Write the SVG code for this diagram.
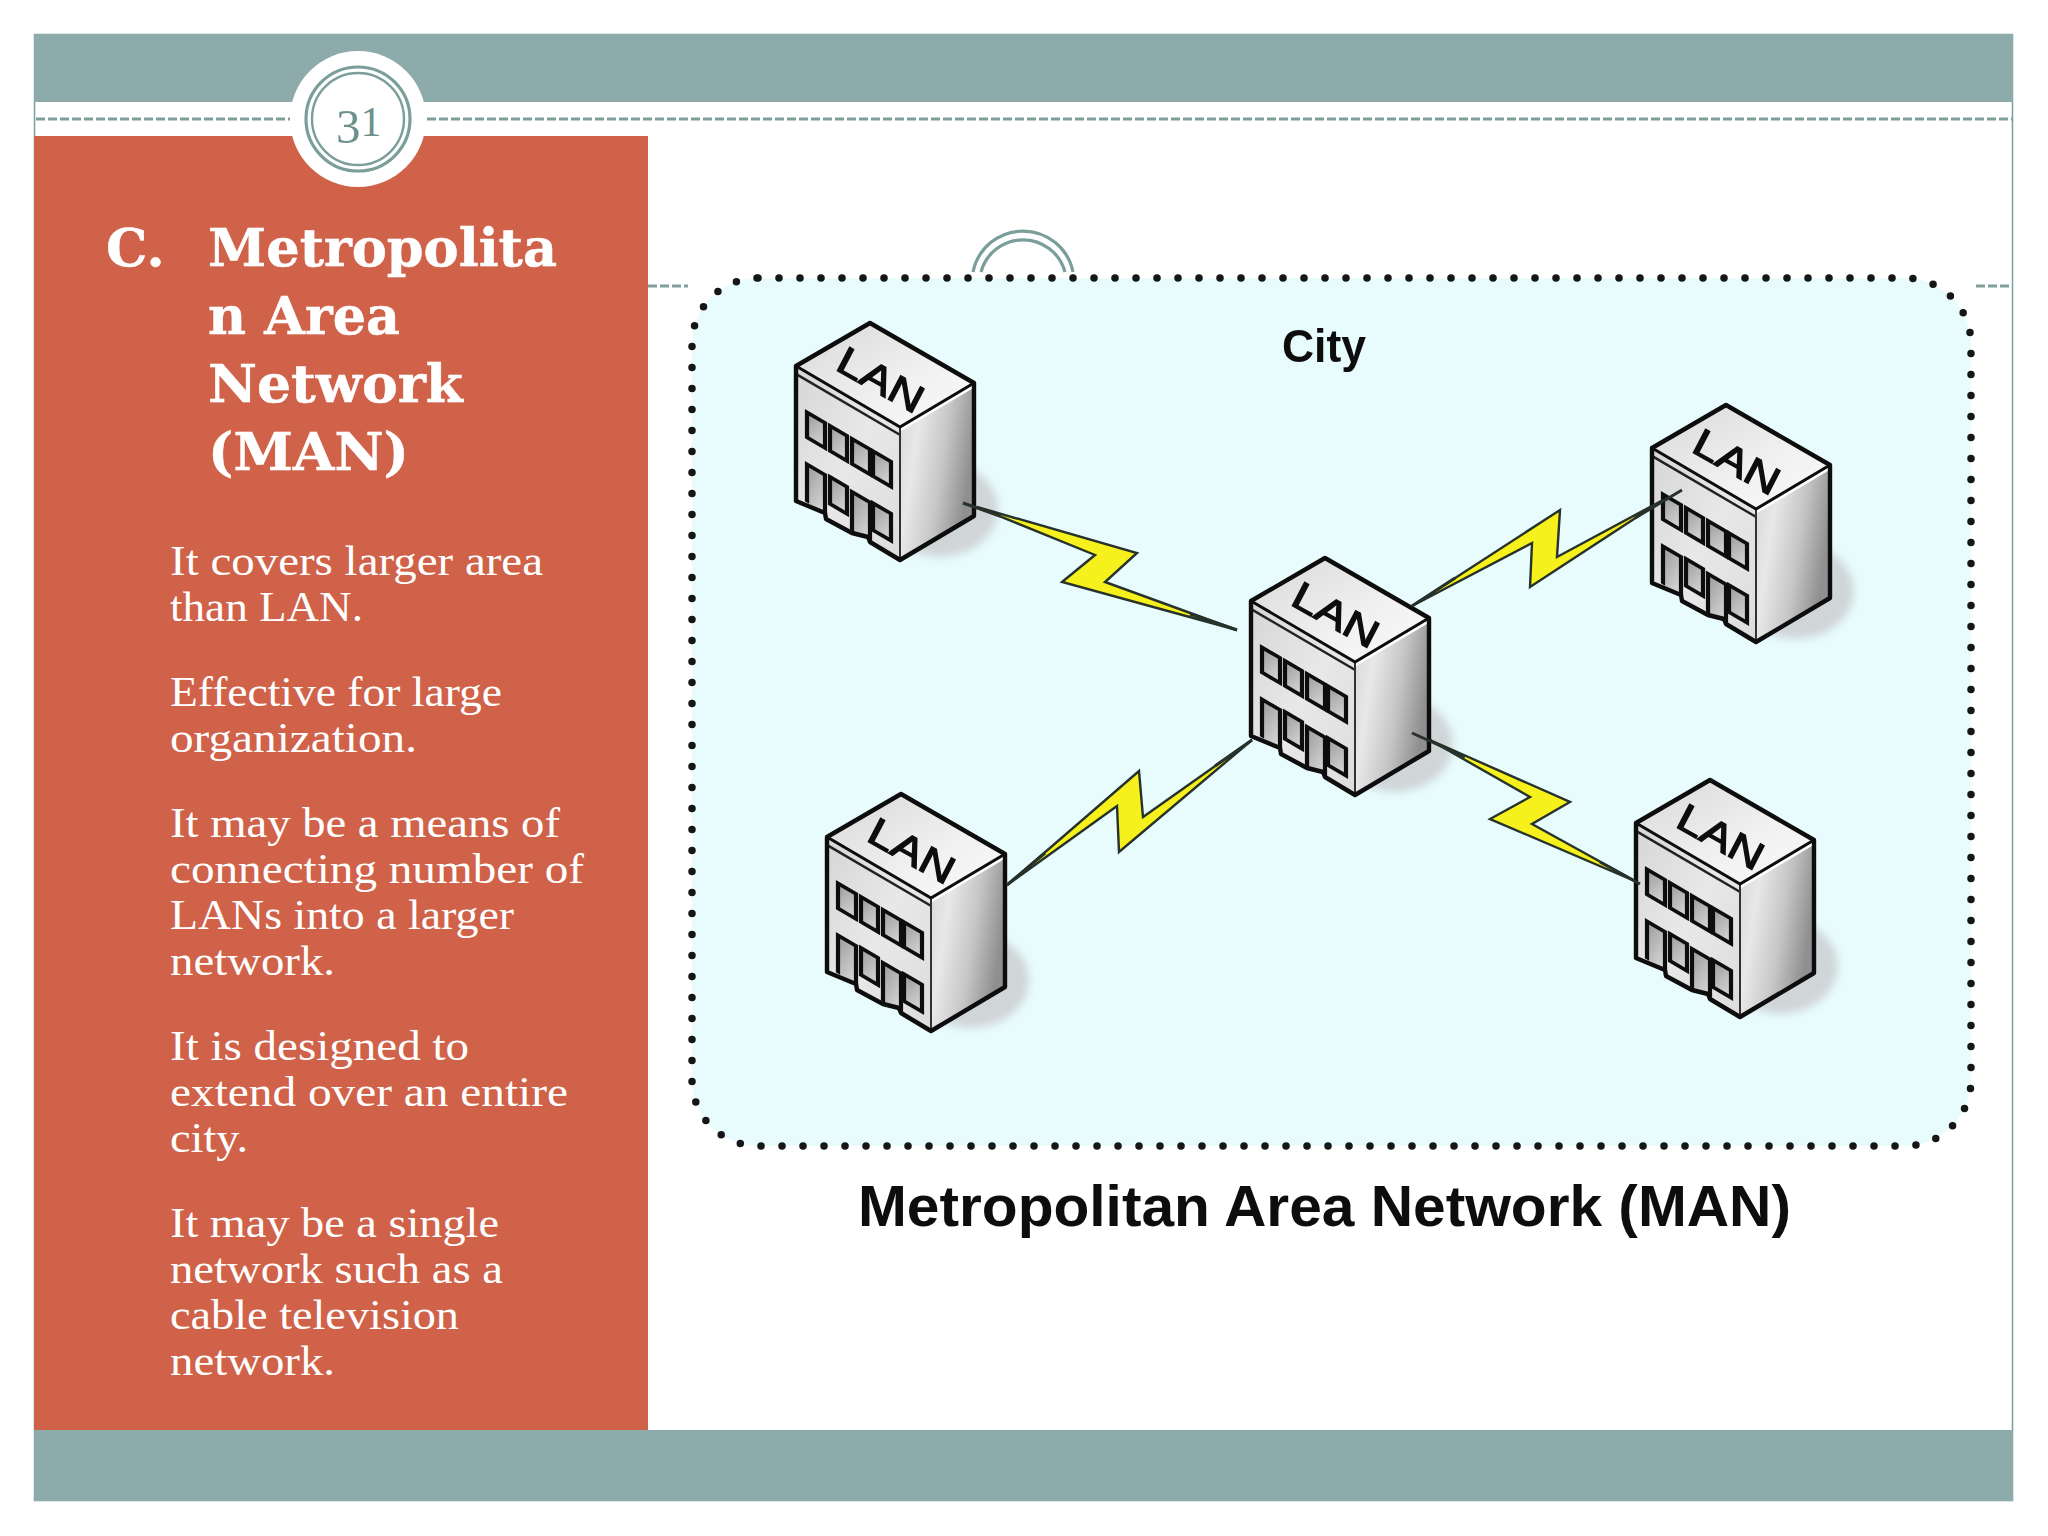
<svg xmlns="http://www.w3.org/2000/svg" xmlns:xlink="http://www.w3.org/1999/xlink" width="2048" height="1536" viewBox="0 0 2048 1536">
<style>
.band{fill:#8dabab}
.dash{fill:none;stroke:#7f9f9c;stroke-width:3;stroke-dasharray:9 3}
.ring{fill:none;stroke:#7a9e99}
.title{font-family:"DejaVu Serif",serif;font-weight:700;font-size:52px;fill:#fff;stroke:#fff;stroke-width:.5}
.body{font-family:"Liberation Serif",serif;font-size:42px;fill:#fff}
.lan{font-family:"Liberation Sans",Arial,sans-serif;font-size:39px;fill:#0c0c0c;stroke:#0c0c0c;stroke-width:1.300}
.cap{font-family:"Liberation Sans",Arial,sans-serif;font-weight:700;fill:#111}
.bolt{fill:#f6f01e;stroke:#26302a;stroke-width:2.400;stroke-linejoin:miter}
.tail{fill:none;stroke:#26302a;stroke-width:3}
.win{fill:url(#winG);stroke:#101010;stroke-width:4.200}
.edge{fill:none;stroke:#0b0b0b;stroke-width:4.400;stroke-linejoin:round}
</style>
<defs>
<linearGradient id="topG" x1="0" y1="0" x2="1" y2="1"><stop offset="0" stop-color="#d8d8d8"/><stop offset=".6" stop-color="#f1f1f1"/><stop offset="1" stop-color="#fafafa"/></linearGradient>
<linearGradient id="frontG" x1="0" y1="0" x2="1" y2="1"><stop offset="0" stop-color="#d6d6d6"/><stop offset=".5" stop-color="#e8e8e8"/><stop offset="1" stop-color="#dcdcdc"/></linearGradient>
<linearGradient id="sideG" x1="0" y1="0" x2="1" y2=".35"><stop offset="0" stop-color="#d6d6d6"/><stop offset=".3" stop-color="#e8e8e8"/><stop offset=".65" stop-color="#c6c6c6"/><stop offset="1" stop-color="#8f8f8f"/></linearGradient>
<linearGradient id="winG" x1="0" y1="0" x2="1" y2="1"><stop offset="0" stop-color="#9a9a9a"/><stop offset="1" stop-color="#dcdcdc"/></linearGradient>
<filter id="soft" x="-30%" y="-30%" width="160%" height="160%"><feGaussianBlur stdDeviation="4"/></filter>
<filter id="jpg" x="-5%" y="-5%" width="110%" height="110%"><feGaussianBlur stdDeviation=".7"/></filter>
<g id="bldg">
<ellipse cx="70" cy="186" rx="58" ry="48" fill="#d0d6d8" filter="url(#soft)"/>
<polygon points="0,0 -74,43 30,104 104,60" fill="url(#topG)"/>
<polygon points="30,104 104,60 104,193 30,236" fill="url(#sideG)"/>
<polygon points="-74,43 30,104 30,237 0,219 -2,214 -18,210 -44,196 -45,190 -74,178" fill="url(#frontG)"/>
<polyline points="30,107 104,63" fill="none" stroke="#fff" stroke-width="3"/>
<g transform="matrix(1 .586 0 1 -74 43)">
<rect x="11" y="40" width="18" height="25" class="win"/>
<rect x="34" y="40" width="17" height="25" class="win"/>
<rect x="56" y="40" width="18" height="25" class="win"/>
<rect x="77" y="40" width="18" height="25" class="win"/>
<path d="M11 130V92H29V130" class="win"/>
<rect x="34" y="91" width="17" height="27" class="win"/>
<path d="M56 132V93H74V132" class="win"/>
<rect x="77" y="92" width="18" height="27" class="win"/>
<line x1="0" y1="8" x2="104" y2="8" stroke="#222" stroke-width="2.800"/>
</g>
<line x1="30" y1="104" x2="30" y2="236" stroke="#333" stroke-width="2"/>
<polygon points="0,0 -74,43 -74,178 -45,190 -44,196 -18,210 -2,214 0,219 30,237 104,193 104,60" class="edge"/>
<polyline points="-74,43 30,104 104,60" fill="none" stroke="#0b0b0b" stroke-width="3"/>
</g>
</defs>

<rect width="2048" height="1536" fill="#fff"/>

<g id="frame">
<rect x="34.500" y="34.500" width="1978" height="1466" fill="#fff" stroke="#7a9e99" stroke-width="1.500"/>
<rect x="34" y="34" width="1979" height="68" class="band"/>
<rect x="34" y="1430" width="1979" height="71" class="band"/>
<rect x="34" y="136" width="614" height="1294" fill="#cf6249"/>
<line x1="36" y1="119" x2="290" y2="119" class="dash"/>
<line x1="427" y1="119" x2="2012" y2="119" class="dash"/>
<line x1="648" y1="286" x2="688" y2="286" class="dash"/>
<line x1="1976" y1="286" x2="2012" y2="286" class="dash"/>
</g>

<g id="badge">
<circle cx="358" cy="119" r="68" fill="#fff"/>
<circle cx="358" cy="119" r="52" class="ring" stroke-width="3.200"/>
<circle cx="358" cy="119" r="46" class="ring" stroke-width="2.400"/>
<text x="336" y="143" font-family="Liberation Serif,serif" font-size="49" fill="#6d918d">3<tspan dy="-7" font-size="42">1</tspan></text>
</g>

<g id="arch">
<path d="M973 272A51 51 0 0 1 1073 272" class="ring" stroke-width="3.200"/>
<path d="M981 272A43.500 43.500 0 0 1 1065 272" class="ring" stroke-width="3.200"/>
</g>

<g id="side-text">
<text x="106" y="266" class="title">C.</text>
<text x="208" y="266" class="title" textLength="349" lengthAdjust="spacingAndGlyphs">Metropolita</text>
<text x="208" y="334" class="title" textLength="192" lengthAdjust="spacingAndGlyphs">n Area</text>
<text x="208" y="402" class="title" textLength="255" lengthAdjust="spacingAndGlyphs">Network</text>
<text x="208" y="470" class="title" textLength="201" lengthAdjust="spacingAndGlyphs">(MAN)</text>
<g class="body">
<text x="170" y="575" textLength="373" lengthAdjust="spacingAndGlyphs">It covers larger area</text>
<text x="170" y="621" textLength="193" lengthAdjust="spacingAndGlyphs">than LAN.</text>
<text x="170" y="706" textLength="332" lengthAdjust="spacingAndGlyphs">Effective for large</text>
<text x="170" y="752" textLength="247" lengthAdjust="spacingAndGlyphs">organization.</text>
<text x="170" y="837" textLength="390" lengthAdjust="spacingAndGlyphs">It may be a means of</text>
<text x="170" y="883" textLength="414" lengthAdjust="spacingAndGlyphs">connecting number of</text>
<text x="170" y="929" textLength="344" lengthAdjust="spacingAndGlyphs">LANs into a larger</text>
<text x="170" y="975" textLength="165" lengthAdjust="spacingAndGlyphs">network.</text>
<text x="170" y="1060" textLength="299" lengthAdjust="spacingAndGlyphs">It is designed to</text>
<text x="170" y="1106" textLength="398" lengthAdjust="spacingAndGlyphs">extend over an entire</text>
<text x="170" y="1152" textLength="78" lengthAdjust="spacingAndGlyphs">city.</text>
<text x="170" y="1237" textLength="329" lengthAdjust="spacingAndGlyphs">It may be a single</text>
<text x="170" y="1283" textLength="333" lengthAdjust="spacingAndGlyphs">network such as a</text>
<text x="170" y="1329" textLength="289" lengthAdjust="spacingAndGlyphs">cable television</text>
<text x="170" y="1375" textLength="165" lengthAdjust="spacingAndGlyphs">network.</text>
</g>
</g>

<g filter="url(#jpg)">
<g id="city">
<rect x="692" y="278" width="1279" height="868" rx="66" fill="#e8fcfd" stroke="#151515" stroke-width="7.500" stroke-linecap="round" stroke-dasharray="0 21"/>
<text x="1282" y="362" class="cap" font-size="46" textLength="84" lengthAdjust="spacingAndGlyphs">City</text>
</g>
<g id="lan-top-left" transform="translate(870 323)"><use xlink:href="#bldg" href="#bldg"/><text class="lan" transform="matrix(1.07 .6 -.46 .885 -36 46)">LAN</text></g>
<g id="lan-top-right" transform="translate(1726 405)"><use xlink:href="#bldg" href="#bldg"/><text class="lan" transform="matrix(1.07 .6 -.46 .885 -36 46)">LAN</text></g>
<g id="lan-center" transform="translate(1325 558)"><use xlink:href="#bldg" href="#bldg"/><text class="lan" transform="matrix(1.07 .6 -.46 .885 -36 46)">LAN</text></g>
<g id="lan-bottom-left" transform="translate(901 794)"><use xlink:href="#bldg" href="#bldg"/><text class="lan" transform="matrix(1.07 .6 -.46 .885 -36 46)">LAN</text></g>
<g id="lan-bottom-right" transform="translate(1710 780)"><use xlink:href="#bldg" href="#bldg"/><text class="lan" transform="matrix(1.07 .6 -.46 .885 -36 46)">LAN</text></g>
<g id="connectors">
<polygon class="bolt" points="977,507 1137,553 1105,582 1237,630 1062,582 1095,555"/>
<path class="tail" d="M963 503L1000 516M1190 614L1237 630"/>
<polygon class="bolt" points="1412,606 1560,510 1557,557 1663,500 1530,587 1532,543"/>
<path class="tail" d="M1412 606L1455 578M1635 518L1682 490"/>
<polygon class="bolt" points="1007,885 1139,771 1143,817 1252,740 1119,852 1117,806"/>
<path class="tail" d="M1007 885L1045 853M1215 766L1252 740"/>
<polygon class="bolt" points="1430,740 1570,802 1532,824 1637,882 1490,819 1530,797"/>
<path class="tail" d="M1412 733L1465 757M1600 862L1640 884"/>
</g>
<text id="caption" x="858" y="1226" class="cap" font-size="57" textLength="933" lengthAdjust="spacingAndGlyphs">Metropolitan Area Network (MAN)</text>
</g>
</svg>
